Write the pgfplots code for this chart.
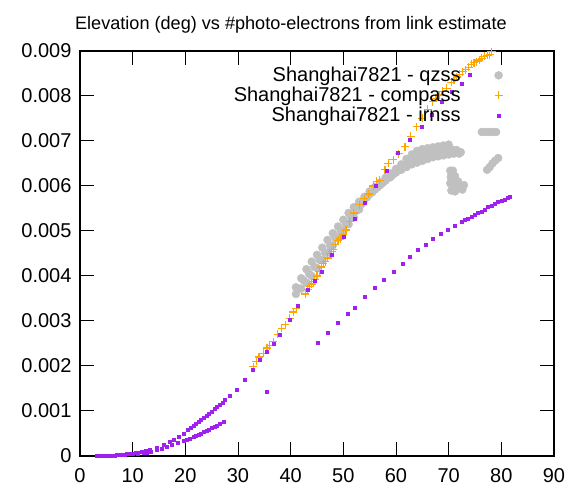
\documentclass[border=0pt]{standalone}
\usepackage{pgfplots}
\pgfplotsset{compat=1.18}
\usepackage{fontspec}
\setmainfont{Liberation Sans}
\definecolor{qz}{RGB}{192,192,192}
\definecolor{cp}{RGB}{255,165,0}
\definecolor{ir}{RGB}{160,32,240}
\begin{document}
\begin{tikzpicture}
\path[use as bounding box] (-80pt,-30pt) rectangle (489pt,456pt);
\begin{axis}[
  scale only axis, width=474pt, height=405pt,
  at={(0,0)}, anchor=south west,
  xmin=0, xmax=90, ymin=0, ymax=0.009,
  xtick={0,10,20,30,40,50,60,70,80,90},
  ytick={0,0.001,0.002,0.003,0.004,0.005,0.006,0.007,0.008,0.009},
  yticklabels={0,0.001,0.002,0.003,0.004,0.005,0.006,0.007,0.008,0.009},
  scaled y ticks=false,
  /pgf/number format/assume math mode=true,
  tick align=inside, xtick pos=both, ytick pos=both,
  major tick length=14pt,
  every tick/.style={black, line width=1pt},
  axis line style={black, line width=1.2pt},
  ticklabel style={font=\fontsize{20}{22}\selectfont},
  yticklabel style={xshift=-5pt},
  xticklabel style={inner sep=1pt, yshift=-11pt},
  title={Elevation (deg) vs \#photo-electrons from link estimate},
  title style={at={(axis description cs:0.445,1.051)}, anchor=center, font=\fontsize{18.1}{20}\selectfont},
  legend style={draw=none, fill=none, at={(axis description cs:0.892,0.965)}, anchor=north east,
    font=\fontsize{20}{21}\selectfont, row sep=0pt, inner sep=0pt},
  legend cell align=right,
  legend plot pos=right,
  legend image code/.code={\path[draw=none,fill=none] (0pt,0pt) -- (36pt,0pt); \draw plot coordinates {(36pt,0pt)};},
]
\addplot[only marks, color=qz, mark=*, mark size=4pt] coordinates {
(41,0.00360)(42,0.00372)(43,0.00385)(44,0.00400)(45,0.00418)(46,0.00436)(47,0.00452)(48,0.00468)(49,0.00485)(50,0.00500)(51,0.00515)(52,0.00530)(53,0.00548)(54,0.00570)(55,0.00582)(56,0.00592)(57,0.00602)(58,0.00612)(59,0.00620)(60,0.00630)(61,0.00636)(62,0.00642)(63,0.00648)(64,0.00652)(65,0.00656)(66,0.00660)(67,0.00664)(68,0.00666)(69,0.00668)(70,0.00670)(71,0.00672)(72,0.00672)
(41,0.00375)(42,0.00395)(43,0.00415)(44,0.00432)(45,0.00447)(46,0.00463)(47,0.00480)(48,0.00495)(49,0.00510)(50,0.00525)(51,0.00540)(52,0.00553)(53,0.00565)(54,0.00576)(55,0.00588)(56,0.00598)(57,0.00608)(58,0.00618)(59,0.00628)(60,0.00638)(61,0.00648)(62,0.00660)(63,0.00670)(64,0.00678)(65,0.00682)(66,0.00684)(67,0.00686)(68,0.00688)(69,0.00690)(70,0.00692)
(41.5,0.00372)(42.5,0.00390)(43.5,0.00405)(44.5,0.00420)(45.5,0.00436)(46.5,0.00452)(47.5,0.00468)(48.5,0.00485)(49.5,0.00500)(50.5,0.00515)(51.5,0.00530)(52.5,0.00545)(53.5,0.00560)(54.5,0.00575)(55.5,0.00586)(56.5,0.00597)(57.5,0.00607)(58.5,0.00617)(59.5,0.00626)(60.5,0.00635)(61.5,0.00644)(62.5,0.00652)(63.5,0.00660)(64.5,0.00666)(65.5,0.00670)(66.5,0.00673)(67.5,0.00676)(68.5,0.00678)(69.5,0.00680)(70.5,0.00682)(71.5,0.00680)(72.3,0.00675)
(70.3,0.00634)(70.8,0.00634)(70.4,0.00620)(71.2,0.00622)(70.3,0.00606)(71.0,0.00606)(70.5,0.00590)(71.2,0.00588)(71.6,0.00595)(72.3,0.00600)(72.9,0.00602)(72.6,0.00592)(71.8,0.00610)
(76.3,0.00720)(77.0,0.00720)(77.7,0.00720)(78.4,0.00720)(79.0,0.00720)
(77.3,0.00636)(77.8,0.00642)(78.3,0.00650)(78.8,0.00656)(79.4,0.00662)
};
\addlegendentry{Shanghai7821 - qzss}
\addplot[only marks, color=cp, mark=+, mark size=4pt, line width=1.2pt] coordinates {
(32.9,0.00198)(33.5,0.00210)(34.0,0.00220)(34.8,0.00228)(35.5,0.00240)(36.0,0.00245)(36.7,0.00254)(37.5,0.00270)(38.3,0.00284)(39.0,0.00292)(39.8,0.00306)(40.5,0.00320)(41.1,0.00328)
(42.8,0.00360)(43.2,0.00370)(43.6,0.00376)(44.0,0.00382)(44.3,0.00387)(44.6,0.00392)(45.0,0.00400)(45.4,0.00410)(45.8,0.00420)(46.2,0.00428)(46.6,0.00432)(47.0,0.00440)(47.4,0.00450)(47.8,0.00455)(48.1,0.00458)(48.5,0.00470)(49.0,0.00478)(49.4,0.00482)(49.7,0.00487)(50.0,0.00492)(50.5,0.00502)(51.2,0.00521)(52.0,0.00540)(53.0,0.00558)(54.0,0.00572)(54.8,0.00582)(55.7,0.00600)(56.3,0.00610)(56.9,0.00613)(57.9,0.00636)(58.5,0.00650)(59.5,0.00658)(60.5,0.00672)(61.7,0.00687)(62.8,0.00710)(63.9,0.00732)(65.0,0.00750)(66.0,0.00770)(67.0,0.00787)(67.6,0.00795)(68.3,0.00802)(68.8,0.00810)(69.6,0.00817)(70.5,0.00830)(71.0,0.00836)(71.5,0.00842)(72.1,0.00848)(72.7,0.00854)(73.2,0.00858)(73.8,0.00864)(74.3,0.00870)(74.8,0.00874)(75.3,0.00876)(75.8,0.00880)(76.3,0.00884)(76.8,0.00888)(77.3,0.00890)(77.8,0.00892)(78.2,0.00898)
};
\addlegendentry{Shanghai7821 - compass}
\addplot[only marks, color=ir, mark=square*, mark size=1.5pt] coordinates {
(3.2,0)(3.6,0)(4.0,0)(4.4,0)(4.8,0.000003)(5.2,0.000005)(5.6,0.000007)(6.0,0.00001)(6.5,0.000013)(7.0,0.00002)(7.5,0.000025)(8.0,0.00003)(8.5,0.000035)(9.0,0.00004)(9.5,0.00005)(10.0,0.00006)(10.5,0.00007)(11.0,0.00008)(11.7,0.0001)(12.5,0.00012)(13.3,0.00014)(14.5,0.00018)(15.8,0.00024)(17.0,0.00031)(17.7,0.00036)(18.7,0.00043)(19.6,0.0005)
(20.5,0.00058)(21.0,0.00062)(21.5,0.00067)(22.0,0.00072)(22.5,0.00077)(23.0,0.00081)(23.5,0.00085)(24.0,0.00089)(24.5,0.00094)(25.0,0.00099)(25.5,0.00104)(26.0,0.00109)(26.5,0.00114)(27.0,0.00119)(27.5,0.00124)
(28.5,0.00134)(29.7,0.00148)(31.3,0.00169)(32.8,0.00191)(34.2,0.00213)(35.4,0.00232)(36.7,0.0025)(38.0,0.00269)(39.8,0.00302)(41.4,0.00333)(43.3,0.00369)(44.5,0.0039)(45.9,0.0041)(47.8,0.00447)(50.0,0.00487)(52.2,0.00528)(54.1,0.00562)(56.2,0.00600)(58.3,0.00634)(60.4,0.00673)(62.6,0.00702)(64.8,0.00732)(66.7,0.00758)(68.6,0.00787)(70.5,0.0081)(72.4,0.00828)(74.0,0.00847)
(3.5,0)(5.0,0)(6.5,0.00001)(8.0,0.00002)(8.9,0.00004)(10.0,0.00005)(11.0,0.00006)(12.0,0.00007)(12.7,0.00008)(13.5,0.0001)(14.5,0.00013)(15.5,0.00017)(16.5,0.00021)(17.5,0.00025)(18.5,0.0003)(19.6,0.00034)(20.2,0.00036)(20.8,0.00039)(21.5,0.00043)(22.0,0.00045)(22.5,0.00048)(23.0,0.00050)(23.5,0.00053)(24.0,0.00056)(24.5,0.00059)(25.0,0.00062)(25.5,0.00065)(26.0,0.00068)(26.6,0.00072)(27.2,0.00076)
(35.4,0.00143)(45.2,0.00252)(47.1,0.00274)(49.0,0.00296)(50.9,0.00317)(52.2,0.0033)(54.1,0.00353)(56.0,0.00373)(57.7,0.00391)(59.5,0.0041)(61.2,0.00427)(62.6,0.00443)(64.1,0.00458)(65.6,0.0047)(67.0,0.00482)(68.5,0.00493)(69.9,0.00502)(71.2,0.00511)(72.4,0.00521)(73.1,0.00525)(73.7,0.00528)(74.4,0.00532)(75.0,0.00536)(75.6,0.0054)(76.2,0.00543)(76.8,0.00548)(77.5,0.00553)(78.1,0.00556)(78.7,0.0056)(79.4,0.00564)(80.0,0.00567)(80.7,0.0057)(81.2,0.00573)(81.6,0.00576)
};
\addlegendentry{Shanghai7821 - irnss}
\end{axis}
\end{tikzpicture}
\end{document}
